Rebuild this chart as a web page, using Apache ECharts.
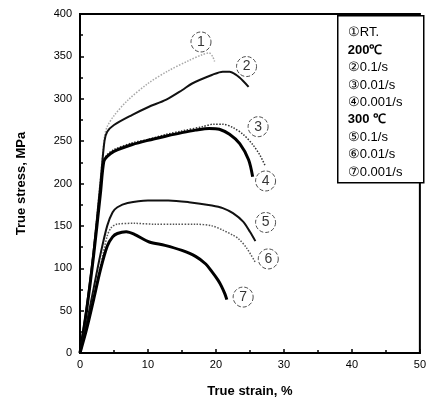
<!DOCTYPE html>
<html>
<head>
<meta charset="utf-8">
<script src="https://cdn.jsdelivr.net/npm/echarts@6/dist/echarts.min.js"></script>
<style>
  html, body { margin: 0; padding: 0; background: #fff; }
  #chart { width: 429px; height: 403px; }
</style>
</head>
<body>
<div id="chart"></div>
<script>
// curves: [strain %, stress MPa]
const curveRT = [[0,0],[1,55],[2,122],[3,205],[3.6,255],[4,267],[5,280],[7,298],[10,318],[13,333],[16,345],[18,352],[19,354],[19.5,350],[19.8,344]];
const curve200_01 = [[0,0],[1,55],[2,120],[3,200],[3.6,250],[4,261],[5,269],[7.7,281],[10,290],[12.7,299],[15,310],[16.5,318],[19.4,328],[21,332],[22,332],[23,328],[24,321],[24.8,314]];
const curve200_001 = [[0,0],[1,52],[2,115],[3,190],[3.5,228],[4,234],[5,240],[7.7,248],[10,252],[12.7,258],[15,262],[18,267],[19.7,270],[21,270],[22.5,266],[24,258],[25.5,245],[26.5,233],[27.3,220]];
const curve200_0001 = [[0,0],[1,52],[2,115],[3,188],[3.5,226],[4,232],[5,238],[7.7,246],[10,251],[12.7,256],[15,260],[17,263],[19,265],[20.5,264],[22,258],[23.5,247],[24.8,228],[25.4,208]];
const curve300_01 = [[0,0],[1,36],[2,76],[3,116],[4,150],[4.8,166],[5.5,172],[7,177],[10,180],[13,180],[16,178],[19.4,174],[21,171],[22.5,165],[24,155],[25,143],[25.8,132]];
const curve300_001 = [[0,0],[1,30],[2,66],[3,102],[4,138],[4.6,148],[5.4,152],[8,153],[11,152],[14,152],[17,152],[19.4,150],[21,145],[22.5,139],[23.3,135],[24.5,124],[25.8,107]];
const curve300_0001 = [[0,0],[1,29],[2,63],[3,98],[4,126],[4.8,137],[5.5,141],[6.8,143],[8,140],[10.2,131],[12.5,127],[15,121],[17,114],[18.5,105],[19.4,96],[20.3,86],[20.8,79],[21.3,70],[21.6,63]];

const curveTags = ['①', '②', '③', '④', '⑤', '⑥', '⑦'];
const tagPoints = [[17.8,367],[24.5,338],[26.2,267],[27.3,203],[27.3,154],[27.7,111],[24.0,66]];

const legendLines = ['①RT.', '200℃', '②0.1/s', '③0.01/s', '④0.001/s', '300 ℃', '⑤0.1/s', '⑥0.01/s', '⑦0.001/s'];
const legendBold = [false, true, false, false, false, true, false, false, false];

const xTitle = 'True strain, %';
const yTitle = 'True stress, MPa';

const curves = [curveRT, curve200_01, curve200_001, curve200_0001, curve300_01, curve300_001, curve300_0001];
const lineStyles = [
    { color: '#a8a8a8', width: 1.5, type: 'dotted' },
    { color: '#111', width: 2 },
    { color: '#333', width: 1.5, type: 'dotted' },
    { color: '#000', width: 3 },
    { color: '#111', width: 2 },
    { color: '#555', width: 1.5, type: 'dotted' },
    { color: '#000', width: 3 }
];

const series = curves.map((data, i) => ({
    type: 'line',
    data: data,
    showSymbol: false,
    smooth: 0.3,
    lineStyle: lineStyles[i],
    z: 3
}));

// dashed circle tags next to the curve ends
series.push({
    type: 'scatter',
    data: tagPoints.map((p, i) => ({ value: p, name: curveTags[i] })),
    symbol: 'circle',
    symbolSize: 20,
    itemStyle: {
        color: 'rgba(255,255,255,0)',
        borderColor: '#222',
        borderWidth: 1,
        borderType: 'dashed'
    },
    label: {
        show: true,
        position: 'inside',
        formatter: p => String(p.dataIndex + 1),
        color: '#000',
        fontSize: 14,
        fontFamily: 'Liberation Sans'
    },
    z: 4
});

const legendChildren = [{
    type: 'rect',
    shape: { x: 0, y: 0, width: 86, height: 167 },
    style: { fill: '#fff', stroke: '#000', lineWidth: 1.5 }
}];
legendLines.forEach((t, i) => {
    legendChildren.push({
        type: 'text',
        x: 10,
        y: 17 + i * 17.4,
        style: {
            text: t,
            fill: '#000',
            font: (legendBold[i] ? 'bold ' : '') + '13px "Liberation Sans"',
            textVerticalAlign: 'middle'
        }
    });
});

const option = {
    animation: false,
    backgroundColor: '#fff',
    grid: {
        left: 80,
        right: 6,
        top: 14,
        bottom: 49,
        show: true,
        borderColor: '#000',
        borderWidth: 2,
        backgroundColor: 'transparent'
    },
    xAxis: {
        type: 'value',
        min: 0,
        max: 50,
        interval: 10,
        name: xTitle,
        nameLocation: 'middle',
        nameGap: 32,
        nameTextStyle: { fontFamily: 'Liberation Sans', fontWeight: 'bold', fontSize: 13, color: '#000' },
        axisLine: { lineStyle: { color: '#000', width: 2 } },
        axisTick: { inside: true, length: 4, lineStyle: { color: '#000', width: 1.5 } },
        minorTick: { show: true, splitNumber: 2, length: 3, lineStyle: { color: '#000', width: 1.5 } },
        axisLabel: { color: '#000', fontSize: 11, fontFamily: 'Liberation Sans Narrow, Liberation Sans', margin: 6 },
        splitLine: { show: false }
    },
    yAxis: {
        type: 'value',
        min: 0,
        max: 400,
        interval: 50,
        name: yTitle,
        nameLocation: 'middle',
        nameGap: 52,
        nameTextStyle: { fontFamily: 'Liberation Sans', fontWeight: 'bold', fontSize: 13, color: '#000' },
        axisLine: { lineStyle: { color: '#000', width: 2 } },
        axisTick: { inside: true, length: 4, lineStyle: { color: '#000', width: 1.5 } },
        minorTick: { show: true, splitNumber: 2, length: 3, lineStyle: { color: '#000', width: 1.5 } },
        axisLabel: { color: '#000', fontSize: 11, fontFamily: 'Liberation Sans Narrow, Liberation Sans', margin: 8 },
        splitLine: { show: false }
    },
    graphic: [{
        type: 'group',
        left: 337,
        top: 15,
        children: legendChildren
    }],
    series: series
};

const myChart = echarts.init(document.getElementById('chart'));
myChart.setOption(option);
window.addEventListener('resize', myChart.resize);
</script>
</body>
</html>
